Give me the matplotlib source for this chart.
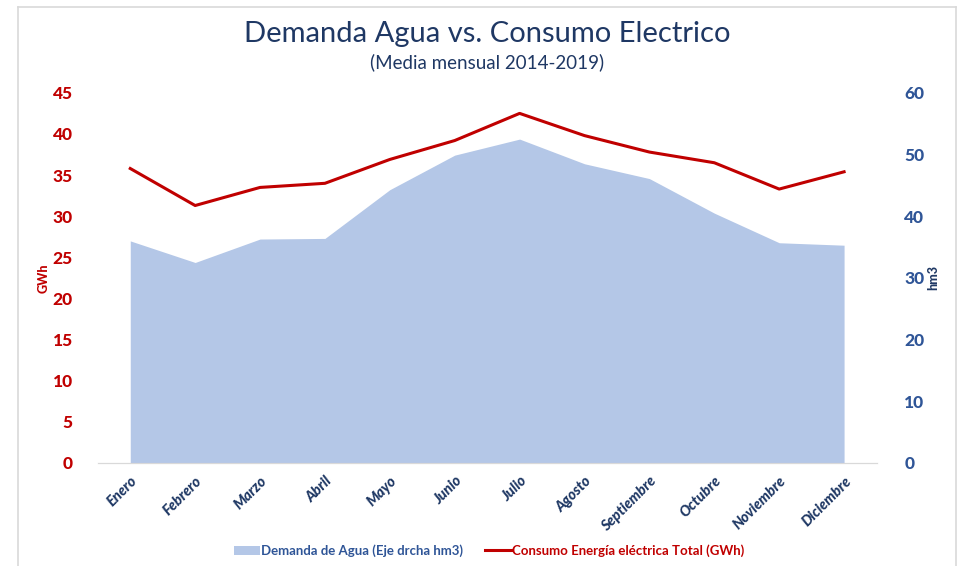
import matplotlib
matplotlib.use('Agg')
import matplotlib.pyplot as plt
from matplotlib.lines import Line2D
from matplotlib.patches import Patch

# datos (media mensual 2014-2019)
meses = ['Enero', 'Febrero', 'Marzo', 'Abril', 'Mayo', 'Junio', 'Julio',
         'Agosto', 'Septiembre', 'Octubre', 'Noviembre', 'Diciembre']
demanda_agua = [36.0, 32.5, 36.3, 36.4, 44.3, 49.9, 52.5, 48.5, 46.1, 40.5, 35.7, 35.3]
consumo_elec = [35.8, 31.3, 33.5, 34.0, 36.9, 39.2, 42.5, 39.8, 37.8, 36.5, 33.3, 35.4]
ticks_gwh = [0, 5, 10, 15, 20, 25, 30, 35, 40, 45]
ticks_hm3 = [0, 10, 20, 30, 40, 50, 60]

AZUL_AREA = '#B4C7E7'
ROJO = '#C00000'
AZUL_OSC = '#2F5597'
NAVY = '#1F3864'

plt.rcParams['font.family'] = ['Lato', 'DejaVu Sans']

fig = plt.figure(figsize=(9.59, 5.66), dpi=100)
ax = fig.add_axes([0.102, 0.182, 0.812, 0.654])
ax2 = ax.twinx()

x = list(range(len(meses)))

# area en eje derecho, detras de la linea
ax2.fill_between(x, demanda_agua, 0, color=AZUL_AREA, linewidth=0, zorder=1)
ax2.set_ylim(0, 60)
ax2.set_yticks(ticks_hm3)
ax2.tick_params(axis='y', length=0, pad=20, labelsize=12.5, labelcolor=AZUL_OSC)
for lbl in ax2.get_yticklabels():
    lbl.set_fontweight('black')
ax2.set_ylabel('hm3', color=NAVY, fontsize=9, fontweight='black', labelpad=2)

ax.set_zorder(ax2.get_zorder() + 1)
ax.patch.set_visible(False)
ax.plot(x, consumo_elec, color=ROJO, linewidth=2.2, zorder=3)
ax.set_ylim(0, 45)
ax.set_yticks(ticks_gwh)
ax.tick_params(axis='y', length=0, pad=18, labelsize=12.5, labelcolor=ROJO)
for lbl in ax.get_yticklabels():
    lbl.set_fontweight('black')
ax.set_ylabel('GWh', color=ROJO, fontsize=9, fontweight='black', labelpad=2)

ax.set_xlim(-0.5, len(meses) - 0.5)
ax.set_xticks(x)
ax.set_xticklabels(meses, rotation=45, ha='right', rotation_mode='anchor',
                   fontsize=10.5, fontweight='black', fontstyle='italic', color=NAVY)
ax.tick_params(axis='x', length=0, pad=8)

for a in (ax, ax2):
    for s in ('top', 'left', 'right'):
        a.spines[s].set_visible(False)
    a.spines['bottom'].set_color('#D9D9D9')

fig.text(0.508, 0.94, 'Demanda Agua vs. Consumo Electrico', ha='center', va='center',
         fontsize=21, color=NAVY)
fig.text(0.508, 0.89, '(Media mensual 2014-2019)', ha='center', va='center',
         fontsize=13.5, color=NAVY)

handles = [Patch(facecolor=AZUL_AREA, edgecolor='none'),
           Line2D([0], [0], color=ROJO, linewidth=2.2)]
leg = fig.legend(handles, ['Demanda de Agua (Eje drcha hm3)',
                           'Consumo Energía eléctrica Total (GWh)'],
                 loc='center', bbox_to_anchor=(0.51, 0.027), ncol=2, frameon=False,
                 fontsize=9.5, handlelength=2.0, handletextpad=0.1, columnspacing=1.6)
for txt, col in zip(leg.get_texts(), (AZUL_OSC, ROJO)):
    txt.set_color(col)
    txt.set_fontweight('bold')

# marco gris de la imagen (sin borde inferior)
W, H = 959, 566
borde = dict(color='#D9D9D9', linewidth=1.2, transform=fig.transFigure)
fig.add_artist(Line2D([18 / W, 18 / W], [0, 1 - 7 / H], **borde))
fig.add_artist(Line2D([18 / W, 956 / W], [1 - 7 / H, 1 - 7 / H], **borde))
fig.add_artist(Line2D([956 / W, 956 / W], [0, 1 - 7 / H], **borde))

fig.savefig('out.png', dpi=100)
